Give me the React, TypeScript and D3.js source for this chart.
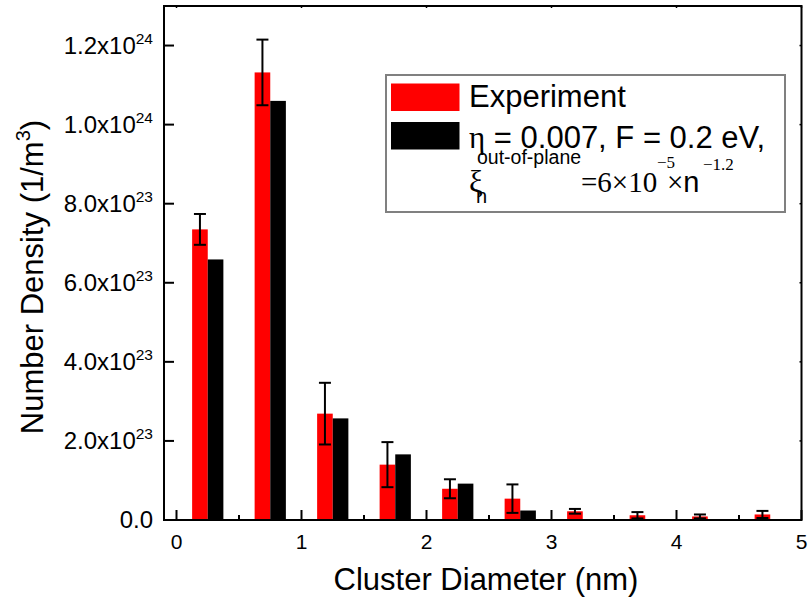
import React from 'react';
import * as d3 from 'd3';

// cluster diameter bins (nm), bar groups are centred on these
const categories = [0.25, 0.75, 1.25, 1.75, 2.25, 2.75, 3.25, 3.75, 4.25, 4.75];
const experiment = [7.35e23, 11.32e23, 2.69e23, 1.4e23, 0.79e23, 0.54e23, 0.22e23, 0.12e23, 0.09e23, 0.14e23];
const experimentErr = [0.39e23, 0.83e23, 0.78e23, 0.57e23, 0.24e23, 0.36e23, 0.06e23, 0.08e23, 0.05e23, 0.09e23];
const simulation = [6.59e23, 10.6e23, 2.57e23, 1.66e23, 0.92e23, 0.24e23, 0, 0, 0, 0];

const yTicks = [0, 2e23, 4e23, 6e23, 8e23, 1e24, 1.2e24];
const yTickLabels = [['0.0', ''], ['2.0x10', '23'], ['4.0x10', '23'], ['6.0x10', '23'], ['8.0x10', '23'], ['1.0x10', '24'], ['1.2x10', '24']];
const xTicks = [0, 1, 2, 3, 4, 5];
const xMinorTicks = [0.5, 1.5, 2.5, 3.5, 4.5];

const SANS = '"Liberation Sans", Arial, sans-serif';
const SERIF = '"Liberation Serif", "Times New Roman", serif';

export default function App() {
  const width = 811;
  const height = 607;
  const left = 164, right = 801.5, top = 6, bottom = 520;

  const x = d3.scaleLinear().domain([-0.1, 5]).range([left, right]);
  const y = d3.scaleLinear().domain([0, 1.3e24]).range([bottom, top]);
  const barW = 0.125;

  return (
    <div style={{ position: 'absolute', left: 0, top: 0 }}>
      <svg width={width} height={height} style={{ display: 'block', background: '#fff' }}>
        {/* bars */}
        {categories.map((c, i) => (
          <g key={c}>
            <rect x={x(c - barW)} y={y(experiment[i])} width={x(c) - x(c - barW)}
              height={y(0) - y(experiment[i])} fill="#ff0000" />
            {simulation[i] > 0 && (
              <rect x={x(c)} y={y(simulation[i])} width={x(c + barW) - x(c)}
                height={y(0) - y(simulation[i])} fill="#000" />
            )}
          </g>
        ))}
        {/* error bars on experiment */}
        {categories.map((c, i) => {
          const cx = x(c - barW / 2);
          const y1 = y(experiment[i] + experimentErr[i]);
          const y2 = y(Math.max(0, experiment[i] - experimentErr[i]));
          return (
            <g key={'e' + c} stroke="#000" strokeWidth={2}>
              <line x1={cx} x2={cx} y1={y1} y2={y2} />
              <line x1={cx - 6} x2={cx + 6} y1={y1} y2={y1} />
              <line x1={cx - 6} x2={cx + 6} y1={y2} y2={y2} />
            </g>
          );
        })}

        {/* frame */}
        <rect x={left} y={top} width={right - left} height={bottom - top} fill="none" stroke="#000" strokeWidth={2} />

        {/* y ticks */}
        {yTicks.map((t, i) => (
          <g key={'y' + t}>
            <line x1={left} x2={left + 10} y1={y(t)} y2={y(t)} stroke="#000" strokeWidth={2} />
            <line x1={right} x2={right - 2} y1={y(t)} y2={y(t)} stroke="#000" strokeWidth={1.5} />
            <text x={153} y={y(t) + 8} textAnchor="end" fontFamily={SANS} fontSize={24} fill="#000">
              {yTickLabels[i][0]}
              {yTickLabels[i][1] && (
                <tspan fontSize={15.5} dy={-10}>{yTickLabels[i][1]}</tspan>
              )}
            </text>
          </g>
        ))}

        {/* x ticks */}
        {xTicks.map(t => (
          <g key={'x' + t}>
            <line x1={x(t)} x2={x(t)} y1={bottom} y2={bottom - 10} stroke="#000" strokeWidth={2} />
            <line x1={x(t)} x2={x(t)} y1={top} y2={top + 2} stroke="#000" strokeWidth={1.5} />
            <text x={x(t)} y={548.5} textAnchor="middle" fontFamily={SANS} fontSize={21} fill="#000">{t}</text>
          </g>
        ))}
        {xMinorTicks.map(t => (
          <line key={'xm' + t} x1={x(t)} x2={x(t)} y1={bottom} y2={bottom - 5} stroke="#000" strokeWidth={2} />
        ))}

        {/* axis titles */}
        <text x={486} y={590} textAnchor="middle" fontFamily={SANS} fontSize={31} fill="#000">Cluster Diameter (nm)</text>
        <text transform="translate(43,277) rotate(-90)" textAnchor="middle" fontFamily={SANS} fontSize={31} fill="#000">
          Number Density (1/m<tspan fontSize={20} dy={-13}>3</tspan><tspan dy={13}>)</tspan>
        </text>

        {/* legend */}
        <rect x={386} y={75} width={399} height={137} fill="#fff" stroke="#808080" strokeWidth={2} />
        <rect x={391} y={83.5} width={68.5} height={27.5} fill="#ff0000" />
        <rect x={391} y={122} width={68.5} height={27.5} fill="#000" />
        <text x={469} y={107} fontFamily={SANS} fontSize={31} fill="#000">Experiment</text>
        <text x={469} y={147.5} fontFamily={SANS} fontSize={31} fill="#000">
          <tspan fontFamily={SERIF}>η</tspan> = 0.007, F = 0.2 eV,
        </text>
        <text x={469} y={192} fontFamily={SERIF} fontSize={31} fill="#000">ξ</text>
        <text x={476} y={203} fontFamily={SANS} fontSize={20} fill="#000">n</text>
        <text x={477} y={164} fontFamily={SANS} fontSize={19.5} fill="#000">out-of-plane</text>
        <text x={581} y={192} fontFamily={SERIF} fontSize={29} fill="#000">=6×10</text>
        <text x={657} y={168} fontFamily={SERIF} fontSize={17} fill="#000">−5</text>
        <text x={667} y={192} fontFamily={SERIF} fontSize={29} fill="#000">×<tspan fontFamily={SANS}>n</tspan></text>
        <text x={703} y={170} fontFamily={SERIF} fontSize={17} fill="#000">−1.2</text>
      </svg>
    </div>
  );
}
